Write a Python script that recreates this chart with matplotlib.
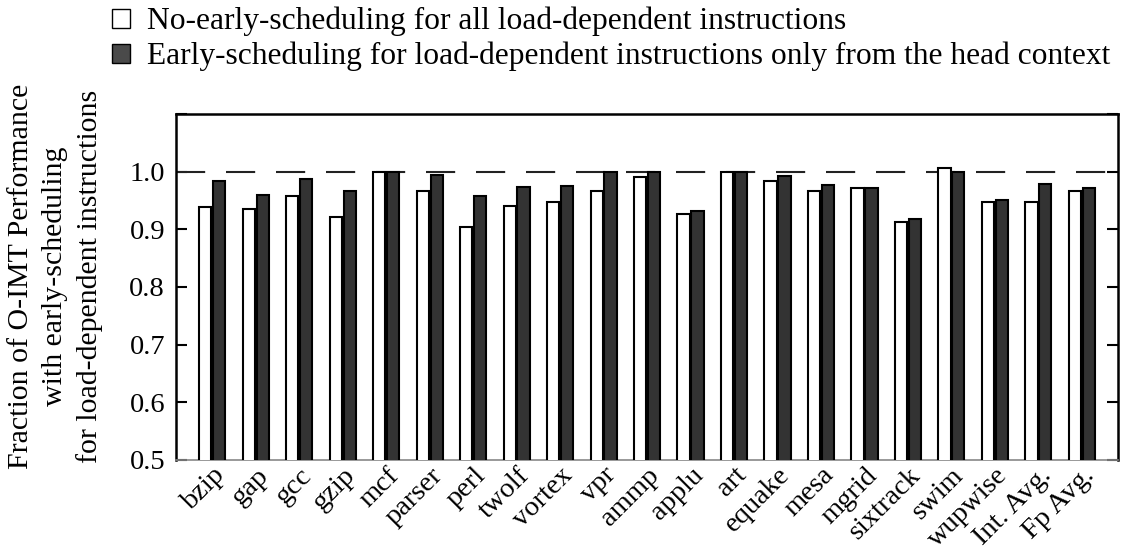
import matplotlib
matplotlib.use("Agg")
import matplotlib.pyplot as plt
import numpy as np
from matplotlib.patches import Patch

plt.rcParams['font.family'] = ['Liberation Serif', 'DejaVu Serif']

categories = ["bzip", "gap", "gcc", "gzip", "mcf", "parser", "perl", "twolf", "vortex", "vpr",
              "ammp", "applu", "art", "equake", "mesa", "mgrid", "sixtrack", "swim", "wupwise",
              "Int. Avg.", "Fp Avg."]
no_early = [0.938, 0.935, 0.958, 0.921, 1.000, 0.966, 0.904, 0.941, 0.947, 0.967,
            0.991, 0.926, 1.000, 0.984, 0.967, 0.972, 0.913, 1.006, 0.948, 0.947, 0.967]
early_head = [0.983, 0.960, 0.987, 0.966, 1.000, 0.995, 0.958, 0.974, 0.975, 1.000,
              1.000, 0.932, 1.000, 0.992, 0.976, 0.972, 0.918, 1.000, 0.951, 0.979, 0.971]
series_names = ["No-early-scheduling for all load-dependent instructions",
                "Early-scheduling for load-dependent instructions only from the head context"]
yticks = [0.5, 0.6, 0.7, 0.8, 0.9, 1.0, 1.1]
yticklabels = ["0.5", "0.6", "0.7", "0.8", "0.9", "1.0", ""]

fig = plt.figure(figsize=(11.22, 5.52), dpi=100)
ax = fig.add_axes([0.157, 0.1667, 0.8394, 0.6268])

x = np.arange(len(categories))
w = 0.28
dark = "#333333"
ax.bar(x - 0.16, no_early, width=w, bottom=0, color="white", edgecolor="black", linewidth=1.5, zorder=3)
ax.bar(x + 0.16, early_head, width=w, bottom=0, color=dark, edgecolor="black", linewidth=1.5, zorder=3)

ax.axhline(1.0, color="#222222", linewidth=1.5, dashes=(14, 10), zorder=2)

ax.set_ylim(0.5, 1.1)
ax.set_xlim(-0.83, len(categories) - 1 + 0.83)
ax.set_yticks(yticks)
ax.set_yticklabels(yticklabels, fontsize=20.5)
ax.tick_params(axis='y', direction='in', length=8, width=1.5, right=True, left=True, pad=8)
ax.set_xticks(x)
ax.set_xticklabels(categories, rotation=45, ha='right', rotation_mode='anchor', fontsize=20.5)
ax.tick_params(axis='x', length=0, pad=2)
for s in ['left', 'right', 'top']:
    ax.spines[s].set_linewidth(1.8)
ax.spines['bottom'].set_linewidth(1.2)
ax.spines['bottom'].set_color("#888888")

ax.set_ylabel("Fraction of O-IMT Performance\nwith early-scheduling\nfor load-dependent instructions",
              fontsize=21.5, linespacing=1.4, labelpad=19)
ax.yaxis.label.set_y(0.53)

handles = [Patch(facecolor="white", edgecolor="black", linewidth=1),
           Patch(facecolor="#4a4a4a", edgecolor="black", linewidth=1)]
fig.legend(handles, series_names, loc='upper left', bbox_to_anchor=(112 / 1122, 1 - 7 / 552), frameon=False,
           borderpad=0, borderaxespad=0,
           fontsize=22.7, handlelength=0.57, handleheight=0.57, handletextpad=0.53, labelspacing=0.17)

fig.savefig("out.png", dpi=100)
